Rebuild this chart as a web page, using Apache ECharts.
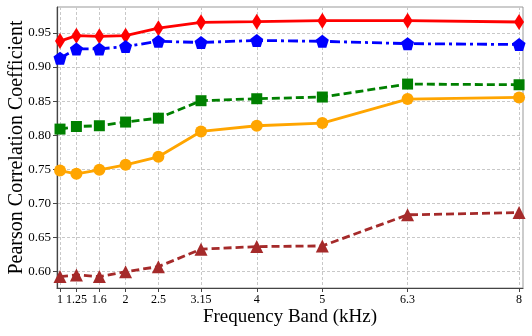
<!DOCTYPE html>
<html>
<head>
<meta charset="utf-8">
<script src="https://cdn.jsdelivr.net/npm/echarts@6/dist/echarts.min.js"></script>
<style>
  html, body { margin: 0; padding: 0; background: #fff; }
  #chart { width: 532px; height: 336px; }
</style>
</head>
<body>
<div id="chart"></div>
<script>
// frequency bands (kHz)
const bands = [1, 1.25, 1.6, 2, 2.5, 3.15, 4, 5, 6.3, 8]
const yTicks = [0.6, 0.65, 0.7, 0.75, 0.8, 0.85, 0.9, 0.95]

// series values
const redDiamond = [0.938, 0.946, 0.945, 0.946, 0.957, 0.9655, 0.9665, 0.968, 0.968, 0.966]
const bluePentagon = [0.913, 0.9265, 0.9265, 0.930, 0.9377, 0.936, 0.939, 0.9377, 0.9343, 0.933]
const greenSquare = [0.809, 0.8128, 0.8139, 0.8193, 0.825, 0.8506, 0.8535, 0.856, 0.875, 0.874]
const orangeCircle = [0.7482, 0.7434, 0.7493, 0.7566, 0.7684, 0.8055, 0.8139, 0.8178, 0.853, 0.8554]
const brownTriangle = [0.5927, 0.5952, 0.5927, 0.600, 0.6073, 0.6329, 0.6367, 0.6377, 0.6833, 0.6866]

const font = 'Liberation Serif'
const pentagon = 'path://M0,-10 L9.51,-3.09 L5.88,8.09 L-5.88,8.09 L-9.51,-3.09 Z'

function pair(vals) {
  return bands.map((b, i) => [b, vals[i]])
}

function mkSeries(vals, color, symbol, size, lineType) {
  return {
    type: 'line',
    data: pair(vals),
    symbol: symbol,
    symbolSize: size,
    lineStyle: { color: color, width: 2.8, type: lineType },
    itemStyle: { color: color },
    animation: false,
    z: 3,
  }
}

const myChart = echarts.init(document.getElementById('chart'))
const option = {
  backgroundColor: '#fff',
  grid: {
    left: 57,
    right: 9,
    top: 7,
    bottom: 48,
    outerBoundsMode: 'none',
    containLabel: false,
    show: true,
    borderColor: '#999',
    borderWidth: 1,
  },
  xAxis: {
    type: 'value',
    min: 0.954,
    max: 8.06,
    name: 'Frequency Band (kHz)',
    nameLocation: 'middle',
    nameGap: 20,
    nameMoveOverlap: false,
    nameTextStyle: { fontFamily: font, fontSize: 19, color: '#000' },
    axisLine: { show: true, onZero: false, lineStyle: { color: '#444', width: 1.2 } },
    axisTick: { show: true, length: 4, customValues: bands, lineStyle: { color: '#444' } },
    axisLabel: {
      customValues: bands,
      fontFamily: font,
      fontSize: 12,
      color: '#000',
      margin: 6,
      showMinLabel: true,
      showMaxLabel: true,
    },
    splitLine: { show: true, lineStyle: { color: '#c8c8c8', type: [3, 2], width: 1 } },
  },
  yAxis: {
    type: 'value',
    min: 0.576,
    max: 0.988,
    name: 'Pearson Correlation Coefficient',
    nameLocation: 'middle',
    nameGap: 30,
    nameMoveOverlap: false,
    nameTextStyle: { fontFamily: font, fontSize: 20, color: '#000' },
    axisLine: { show: true, lineStyle: { color: '#444', width: 1.2 } },
    axisTick: { show: true, length: 4, customValues: yTicks, lineStyle: { color: '#444' } },
    axisLabel: {
      customValues: yTicks,
      fontFamily: font,
      fontSize: 13,
      color: '#000',
      margin: 6,
      formatter: (v) => v.toFixed(2),
    },
    splitLine: { show: true, lineStyle: { color: '#c8c8c8', type: [3, 2], width: 1 } },
  },
  series: [
    mkSeries(redDiamond, '#ff0000', 'diamond', [10, 16], 'solid'),
    mkSeries(bluePentagon, '#0000ff', pentagon, 13, [10, 4, 3, 4]),
    mkSeries(greenSquare, '#008000', 'rect', 11, [8, 4]),
    mkSeries(orangeCircle, '#ffa500', 'circle', 12, 'solid'),
    mkSeries(brownTriangle, '#a52a2a', 'triangle', 13, [8, 4]),
  ],
}
myChart.setOption(option)
</script>
</body>
</html>
